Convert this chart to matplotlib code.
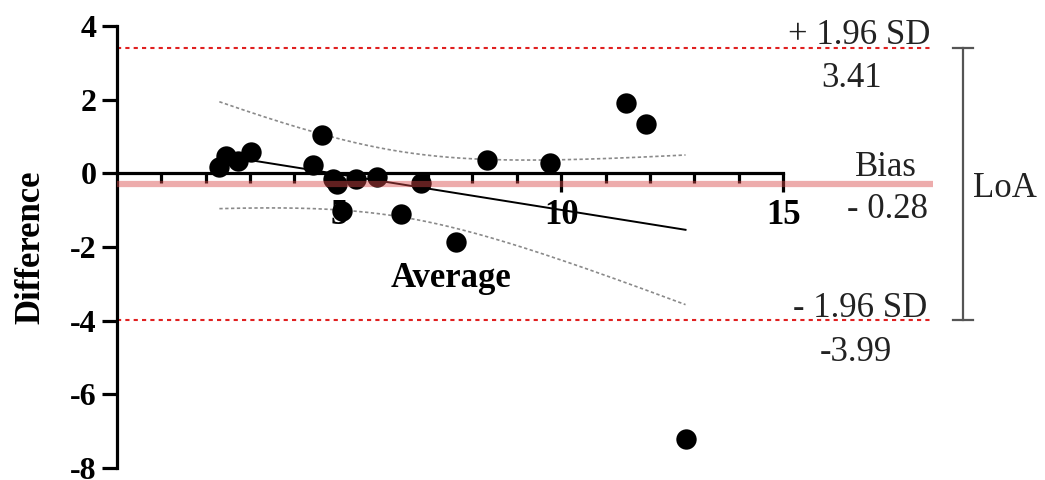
import numpy as np
import matplotlib
matplotlib.use("Agg")
import matplotlib.pyplot as plt

plt.rcParams['font.family'] = ['Liberation Serif', 'DejaVu Serif']
plt.rcParams['axes.unicode_minus'] = False

# ---- data ----
average = [2.31, 2.47, 2.72, 3.03, 4.41, 4.61, 4.86, 4.95, 5.08, 5.39,
           5.86, 6.40, 6.85, 7.64, 8.33, 9.74, 11.47, 11.90, 12.80]
difference = [0.16, 0.46, 0.33, 0.57, 0.22, 1.05, -0.16, -0.30, -1.03, -0.16,
              -0.11, -1.10, -0.25, -1.87, 0.36, 0.27, 1.91, 1.35, -7.22]
bias = -0.28
loa_upper = 3.41
loa_lower = -3.99
x_major_ticks = [5, 10, 15]
x_minor_ticks = [1, 2, 3, 4, 6, 7, 8, 9, 11, 12, 13, 14]
y_ticks = [-8, -6, -4, -2, 0, 2, 4]
y_tick_labels = ['-8', '-6', '-4', '-2', '0', '2', '4']
t_crit = 2.110  # t(0.975, df=17)

x = np.array(average)
y = np.array(difference)

# ---- layout (pixels) ----
W, H = 1045, 480
x0px, xs = 116.7, 44.44     # pixel of x=0, pixels per unit
y0px, ys = 173.3, 36.8      # pixel of y=0, pixels per unit

fig = plt.figure(figsize=(W / 100, H / 100), dpi=100)
ax = fig.add_axes([x0px / W, (H - (y0px + 8 * ys)) / H, (W - x0px) / W, 12 * ys / H])
xmax = (W - x0px) / xs
ax.set_xlim(0, xmax)
ax.set_ylim(-8, 4)

def px(xp, yp):
    return xp / W, 1 - yp / H

line_end = (933 - x0px) / xs

# regression + 95% CI
b1, b0 = np.polyfit(x, y, 1)
n = len(x)
resid = y - (b0 + b1 * x)
s = np.sqrt(np.sum(resid ** 2) / (n - 2))
sxx = np.sum((x - x.mean()) ** 2)
xg = np.linspace(x.min(), x.max(), 200)
yg = b0 + b1 * xg
half = t_crit * s * np.sqrt(1 / n + (xg - x.mean()) ** 2 / sxx)

ax.plot(xg, yg + half, color='#8a8a8a', lw=1.2, ls=(0, (2, 1.5)), zorder=2)
ax.plot(xg, yg - half, color='#8a8a8a', lw=1.2, ls=(0, (2, 1.5)), zorder=2)
ax.plot(xg, yg, color='black', lw=1.4, zorder=2.5)

ax.scatter(x, y, s=215, color='black', zorder=3, linewidths=0)

# limits of agreement and bias
ax.plot([0, line_end], [loa_upper, loa_upper], color='#e02020', lw=1.5,
        ls=(0, (2, 2)), zorder=2, clip_on=False)
ax.plot([0, line_end], [loa_lower, loa_lower], color='#e02020', lw=1.5,
        ls=(0, (2, 2)), zorder=2, clip_on=False)
ax.plot([0, line_end], [bias, bias], color='#d84848', lw=4.5, alpha=0.45,
        zorder=4, solid_capstyle='butt', clip_on=False)

# LoA bracket
bx = (963 - x0px) / xs
cap = 10 / xs
ax.plot([bx, bx], [loa_lower, loa_upper], color='#555555', lw=1.6, clip_on=False)
ax.plot([bx - cap, bx + cap], [loa_upper, loa_upper], color='#555555', lw=1.6, clip_on=False)
ax.plot([bx - cap, bx + cap], [loa_lower, loa_lower], color='#555555', lw=1.6, clip_on=False)

# spines
for side in ['top', 'right']:
    ax.spines[side].set_visible(False)
ax.spines['bottom'].set_position(('data', 0))
ax.spines['bottom'].set_bounds(0, 15)
ax.spines['left'].set_bounds(-8, 4)
for side in ['bottom', 'left']:
    ax.spines[side].set_linewidth(2.3)
    ax.spines[side].set_zorder(3.5)

ax.set_xticks(x_major_ticks)
ax.set_xticklabels([str(v) for v in x_major_ticks], fontweight='bold', fontsize=25)
ax.set_xticks(x_minor_ticks, minor=True)
ax.set_yticks(y_ticks)
ax.set_yticklabels(y_tick_labels, fontweight='bold', fontsize=23)
ax.tick_params(axis='x', which='major', length=13.5, width=2.3, direction='out', pad=5)
ax.tick_params(axis='x', which='minor', length=7.5, width=2.3, direction='out')
ax.tick_params(axis='y', which='major', length=11, width=2.3, direction='out', pad=3.5)

# axis labels
fig.text(*px(451, 287), 'Average', ha='center', va='baseline', fontsize=25, fontweight='bold')
fig.text(*px(31, 247.5), 'Difference', ha='center', va='center', rotation=90,
         fontsize=25, fontweight='bold')

# right-side annotations
fs = 25
fig.text(*px(930, 44), '+ 1.96 SD', ha='right', va='baseline', fontsize=fs, color='#222222')
fig.text(*px(852, 87), f'{loa_upper:.2f}', ha='center', va='baseline', fontsize=fs, color='#222222')
fig.text(*px(886, 176), 'Bias', ha='center', va='baseline', fontsize=fs, color='#222222')
fig.text(*px(928, 218), f'- {abs(bias):.2f}', ha='right', va='baseline', fontsize=fs, color='#222222')
fig.text(*px(927, 317), '- 1.96 SD', ha='right', va='baseline', fontsize=fs, color='#222222')
fig.text(*px(856, 361), f'{loa_lower:.2f}', ha='center', va='baseline', fontsize=fs, color='#222222')
fig.text(*px(973, 197), 'LoA', ha='left', va='baseline', fontsize=fs, color='#222222')

fig.savefig('out.png', dpi=100)
